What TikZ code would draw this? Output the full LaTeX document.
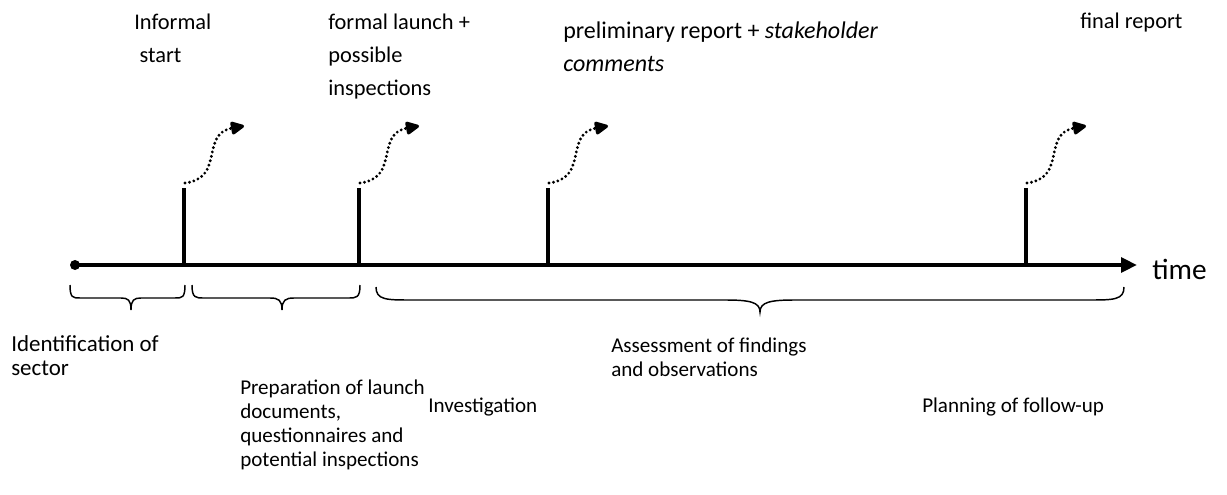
\documentclass[tikz,border=0pt]{standalone}
\usepackage{fontspec}
\setmainfont{Carlito}
\usetikzlibrary{arrows.meta}
\newcommand{\wbrace}[6]{% xa, xt, xb, rEnd, rMid, yflat
  \draw[brace] (#1,{#6-13}) .. controls (#1,#6) and ({#1+0.3*#4},#6) .. ({#1+#4},#6)
    -- ({#2-#5},#6) .. controls ({#2-0.3*#5},#6) and (#2,{#6+2}) .. (#2,{#6+12})
    .. controls (#2,{#6+2}) and ({#2+0.3*#5},#6) .. ({#2+#5},#6)
    -- ({#3-#4},#6) .. controls ({#3-0.3*#4},#6) and (#3,#6) .. (#3,{#6-13});}
\begin{document}
\begin{tikzpicture}[x=0.75pt,y=-0.75pt,
  lbl/.style={inner sep=0pt, anchor=base west, align=left, font=\fontsize{15.8}{18}\selectfont},
  biglbl/.style={lbl, font=\fontsize{17.2}{18}\selectfont},
  toplbl/.style={lbl, font=\fontsize{16.8}{24.75}\selectfont},
  axis/.style={line width=3pt},
  tickline/.style={line width=3pt},
  hop/.style={line width=2.4pt, dash pattern=on 0pt off 3.4pt, line cap=round,
    -{Triangle[length=11.5pt,width=10.5pt,round=false]}},
  brace/.style={line width=1.1pt}]
\useasboundingbox (0,0) rectangle (1227,495);
% axis
\node[circle,fill,inner sep=0pt,minimum size=7.5pt] (start) at (75,265) {};
\coordinate (end) at (1137,265);
\draw[axis,-{Triangle[length=12pt,width=11pt]}] (start.center) -- (end);
% ticks and hops
\foreach \i/\x in {1/184,2/359,3/548,4/1026}{
  \coordinate (t\i b) at (\x,265);
  \coordinate (t\i t) at (\x,188);
  \coordinate (h\i s) at (\x+1,183);
  \coordinate (h\i e) at (\x+60,126);
  \draw[tickline] (t\i b) -- (t\i t);
  \draw[hop] (h\i s) .. controls +(40,-5) and +(-44,8) .. (h\i e);
}
% braces
\wbrace{70}{131}{185}{10}{10}{298}
\wbrace{192}{282}{360}{12}{12}{298}
\wbrace{376}{760}{1124}{35}{35}{300}
% top labels (anchored at last baseline)
\node[toplbl] (informal) at (134,63) {Informal\\\hspace{4pt}start};
\node[toplbl] (formal) at (328,96) {formal launch +\\possible\\inspections};
\node[toplbl, font=\fontsize{18}{24.75}\selectfont] (prelim) at (563,72) {preliminary report + \textit{stakeholder}\\\textit{comments}};
\node[toplbl] (final) at (1080,29) {final report};
\node[lbl, font=\fontsize{22}{24}\selectfont] (time) at (1152,279) {time};
% bottom labels (anchored at last baseline)
\node[biglbl] (ident) at (11,375) {Identification of\\sector};
\node[lbl] (prep) at (240,466) {Preparation of launch\\documents,\\questionnaires and\\potential inspections};
\node[lbl] (invest) at (428,412) {Investigation};
\node[lbl] (assess) at (611,376) {Assessment of findings\\and observations};
\node[lbl] (plan) at (922,412) {Planning of follow-up};
\end{tikzpicture}
\end{document}
